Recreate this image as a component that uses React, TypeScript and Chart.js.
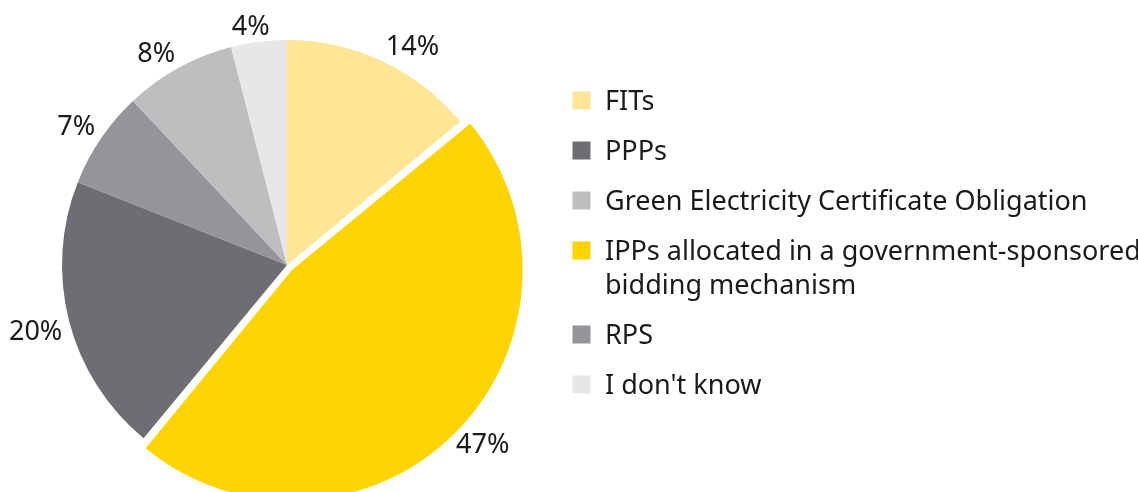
import React, { useEffect, useRef } from "react";
import { Chart, registerables } from "chart.js";

Chart.register(...registerables);

// Slices, clockwise from 12 o'clock
const categories = [
  "FITs",
  "IPPs allocated in a government-sponsored\nbidding mechanism",
  "PPPs",
  "RPS",
  "Green Electricity Certificate Obligation",
  "I don't know",
];
const values = [14, 47, 20, 7, 8, 4];
const colors = ["#FFE696", "#FFD400", "#6D6E71", "#939598", "#BCBEC0", "#E6E7E8"];
// Chart.js moves an arc by offset / 4 pixels
const sliceOffsets = [0, 28, 0, 0, 0, 0];

// Order in which the legend lists the categories
const legendOrder = [0, 2, 4, 1, 3, 5];

const FONT = '"Noto Sans", sans-serif';
const TEXT_COLOR = "#1a1a1a";

const clamp = (v: number) => Math.max(-1, Math.min(1, v));

const percentLabels = {
  id: "percentLabels",
  afterDatasetsDraw(chart: any) {
    const ctx = chart.ctx as CanvasRenderingContext2D;
    const meta = chart.getDatasetMeta(0);
    ctx.save();
    ctx.font = `27px ${FONT}`;
    ctx.fillStyle = TEXT_COLOR;
    ctx.textAlign = "center";
    ctx.textBaseline = "alphabetic";
    const glyphH = 19.5;
    meta.data.forEach((arc: any, i: number) => {
      const p = arc.getProps(["x", "y", "startAngle", "endAngle", "outerRadius"], true);
      const mid = (p.startAngle + p.endAngle) / 2;
      const off = (arc.options.offset || 0) / 4;
      const dist = p.outerRadius + off + 7;
      const text = `${values[i]}%`;
      const w = ctx.measureText(text).width;
      const px = p.x + Math.cos(mid) * dist;
      const py = p.y + Math.sin(mid) * dist;
      const cx = px + (w / 2) * clamp(3 * Math.cos(mid));
      const cy = py + (glyphH / 2) * clamp(3 * Math.sin(mid));
      ctx.fillText(text, cx, cy + glyphH / 2);
    });
    ctx.restore();
  },
};

const customLegend = {
  id: "customLegend",
  afterDraw(chart: any) {
    const ctx = chart.ctx as CanvasRenderingContext2D;
    ctx.save();
    ctx.font = `27px ${FONT}`;
    ctx.textBaseline = "alphabetic";
    ctx.textAlign = "left";
    const boxX = 572.5;
    const box = 18;
    const textX = 605;
    let baseline = 109.5;
    legendOrder.forEach((idx, n) => {
      if (n > 0) baseline += 50;
      ctx.fillStyle = colors[idx];
      ctx.fillRect(boxX, baseline - box, box, box);
      ctx.fillStyle = TEXT_COLOR;
      const lines = categories[idx].split("\n");
      lines.forEach((line, li) => {
        if (li > 0) baseline += 34;
        ctx.fillText(line, textX, baseline);
      });
    });
    ctx.restore();
  },
};

export default function App() {
  const ref = useRef<HTMLCanvasElement>(null);
  useEffect(() => {
    const chart = new Chart(ref.current!, {
      type: "pie",
      data: {
        labels: categories,
        datasets: [
          {
            data: values,
            backgroundColor: colors,
            borderWidth: 0,
            offset: sliceOffsets,
            radius: 225,
          } as any,
        ],
      },
      options: {
        animation: false,
        responsive: false,
        maintainAspectRatio: false,
        layout: { padding: { left: 0, top: 0, bottom: 0, right: 1138 - 574 } },
        plugins: {
          legend: { display: false },
          tooltip: { enabled: false },
        },
      },
      plugins: [percentLabels, customLegend],
    });
    return () => chart.destroy();
  }, []);
  return (
    <div
      style={{
        position: "fixed",
        left: 0,
        top: 0,
        width: 1138,
        height: 492,
        overflow: "hidden",
        background: "#fff",
      }}
    >
      <canvas ref={ref} width={1138} height={530} style={{ display: "block", width: 1138, height: 530 }} />
    </div>
  );
}
